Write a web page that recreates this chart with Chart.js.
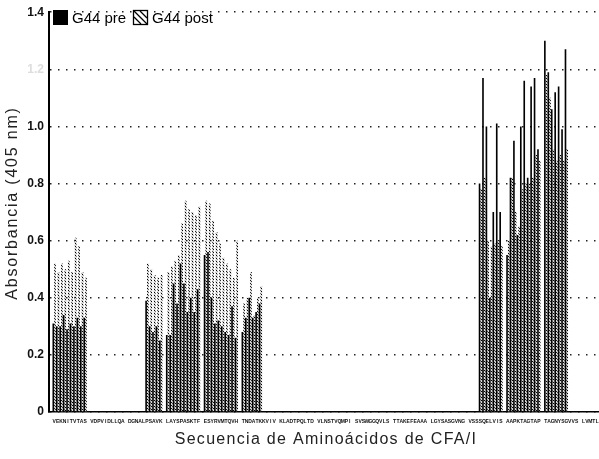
<!DOCTYPE html>
<html>
<head>
<meta charset="utf-8">
<script src="https://cdn.jsdelivr.net/npm/chart.js@4"></script>
<style>
  html,body{margin:0;padding:0;background:#fff;overflow:hidden;}
  #wrap{position:relative;width:599px;height:459px;}
</style>
</head>
<body>
<div id="wrap"><canvas id="c" width="599" height="459"></canvas></div>
<script>
// CFA/I sequence, shown 10 residues per block on the x axis
var seqBlocks = ['VEKNITVTAS','VDPVIDLLQA','DGNALPSAVK','LAYSPASKTF','ESYRVMTQVH',
  'TNDATKKVIV','KLADTPQLTD','VLNSTVQMPI','SVSWGGQVLS','TTAKEFEAAA',
  'LGYSASGVNG','VSSSQELVIS','AAPKTAGTAP','TAGNYSGVVS','LVMTLGS'];
var yTicks = [0, 0.2, 0.4, 0.6, 0.8, 1, 1.2, 1.4];
var xTitle = 'Secuencia de Aminoácidos de CFA/I';
var yTitle = 'Absorbancia (405 nm)';

// reactive peptide runs: first residue index (0-based, spacers counted) and values
var groupStart = [0, 27, 33, 44, 55, 124, 132, 143];
var preGroups = [
  [0.31,0.30,0.30,0.34,0.29,0.31,0.30,0.33,0.30,0.33],
  [0.39,0.30,0.28,0.30,0.25],
  [0.27,0.27,0.45,0.38,0.52,0.45,0.35,0.40,0.35,0.43],
  [0.55,0.56,0.40,0.31,0.32,0.30,0.28,0.27,0.37,0.26],
  [0.28,0.33,0.40,0.33,0.35,0.38],
  [0.80,1.17,1.00,0.40,0.70,1.01,0.70],
  [0.55,0.82,0.95,0.62,1.00,1.16,0.82,1.14,1.17,0.92],
  [1.30,1.19,1.06,1.12,1.14,0.99,1.27]
];
var postGroups = [
  [0.52,0.49,0.52,0.50,0.53,0.49,0.61,0.58,0.49,0.47],
  [0.52,0.50,0.48,0.47,0.48],
  [0.49,0.51,0.53,0.55,0.66,0.74,0.71,0.70,0.69,0.72],
  [0.74,0.73,0.67,0.63,0.59,0.54,0.52,0.50,0.47,0.60],
  [0.38,0.40,0.49,0.34,0.40,0.44],
  [0.78,0.82,0.60,0.58,0.59,0.60,0.58],
  [0.60,0.82,0.70,0.65,0.78,0.80,0.80,0.82,0.90,0.88],
  [1.18,1.10,0.92,0.88,0.90,0.88,0.92]
];

// one letter per bar, a blank slot before the sequence and between blocks
var labels = [''];
seqBlocks.forEach(function(b, k){
  b.split('').forEach(function(ch){ labels.push(ch); });
  if(k < seqBlocks.length-1) labels.push('');
});
var preData = labels.map(function(){ return 0; });
var postData = labels.map(function(){ return 0; });
groupStart.forEach(function(s, g){
  preGroups[g].forEach(function(v, j){ preData[s+j+1] = v; });
  postGroups[g].forEach(function(v, j){ postData[s+j+1] = v; });
});

var ctx = document.getElementById('c').getContext('2d');
function hatchPattern(){
  var c = document.createElement('canvas'); c.width = 3; c.height = 3;
  var g = c.getContext('2d');
  g.fillStyle = '#d8d8d8'; g.fillRect(0,0,3,3);
  g.fillStyle = '#000';
  for(var k=0;k<3;k++) g.fillRect(k,k,1,1);
  return ctx.createPattern(c, 'repeat');
}
var hatch = hatchPattern();

// legend inside the plot (top left) and letter-spaced axis titles
var extras = {
  id:'extras',
  afterDraw:function(chart){
    var c = chart.ctx, y0 = 10, s = 15;
    c.save();
    c.fillStyle = '#000';
    c.fillRect(53, y0, s, s);
    c.font = '15px "Liberation Sans", Arial, sans-serif';
    c.textBaseline = 'middle';
    c.fillText('G44 pre', 72, y0+s/2+1);
    var x1 = 133;
    c.fillStyle = '#fff'; c.fillRect(x1, y0, s, s);
    c.strokeStyle = '#000'; c.lineWidth = 1.3;
    c.strokeRect(x1+0.5, y0+0.5, s-1, s-1);
    c.beginPath();
    c.moveTo(x1+1, y0+1); c.lineTo(x1+s-1, y0+s-1);
    c.moveTo(x1+1, y0+7); c.lineTo(x1+s-7, y0+s-1);
    c.moveTo(x1+7, y0+1); c.lineTo(x1+s-1, y0+s-7);
    c.stroke();
    c.fillStyle = '#000';
    c.fillText('G44 post', 152, y0+s/2+1);

    c.fillStyle = '#222';
    c.font = '16px "Liberation Sans", Arial, sans-serif';
    c.textAlign = 'center';
    c.letterSpacing = '1.3px';
    c.fillText(xTitle, 326, 440);
    c.translate(13, 203);
    c.rotate(-Math.PI/2);
    c.letterSpacing = '1.8px';
    c.fillText(yTitle, 0, 0);
    c.restore();
  }
};

var chart = new Chart(ctx, {
  type:'bar',
  data:{
    labels:labels,
    datasets:[
      {label:'G44 pre', data:preData, backgroundColor:'#000', borderWidth:0,
       categoryPercentage:1, barPercentage:0.95},
      {label:'G44 post', data:postData, backgroundColor:hatch, borderWidth:0,
       categoryPercentage:1, barPercentage:0.95}
    ]
  },
  options:{
    responsive:false, animation:false,
    layout:{padding:{top:12, right:0, left:0, bottom:0}},
    plugins:{legend:{display:false}, tooltip:{enabled:false}},
    scales:{
      x:{
        // the original is cropped: the last two residues fall off the right edge
        max:labels.length-3,
        grid:{display:false, drawTicks:false},
        border:{display:true, color:'#000', width:1.5},
        ticks:{autoSkip:false, maxRotation:0, minRotation:0, padding:7,
          color:'#111', font:{size:5, weight:'bold', family:'"Liberation Sans", Arial'}},
        afterFit:function(s){ s.height = 47; s.paddingLeft = 0; s.paddingRight = 0; }
      },
      y:{
        min:0, max:1.4,
        afterBuildTicks:function(s){ s.ticks = yTicks.map(function(v){ return {value:v}; }); },
        grid:{color:'#222', lineWidth:1.5, drawTicks:false},
        border:{display:true, color:'#000', width:2, dash:[1.5,6.5]},
        ticks:{padding:5, font:{size:12, weight:'bold', family:'"Liberation Sans", Arial'},
          color:function(c){ return c.tick && c.tick.value === 1.2 ? '#ddd' : '#111'; }},
        afterFit:function(s){ s.width = 49; }
      }
    }
  },
  plugins:[extras]
});
</script>
</body>
</html>
